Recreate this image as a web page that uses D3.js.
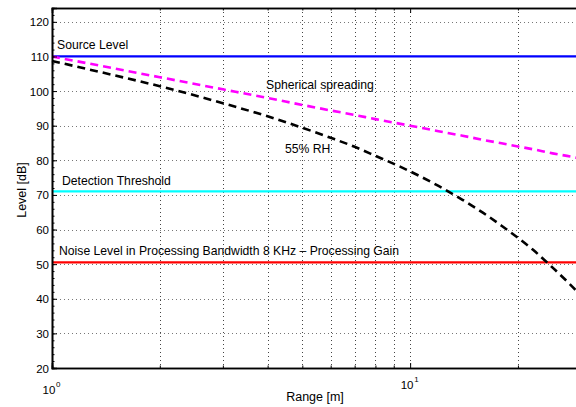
<!DOCTYPE html>
<html lang="en">
<head>
  <title>Level vs Range</title>
  <style type="text/css">
    body { margin: 0; background: #fff; }
    svg { width: 576px; height: 407px; display: block; font-family: "Liberation Sans", Arial, sans-serif; }
  </style>
  <script src="https://cdnjs.cloudflare.com/ajax/libs/d3/7.8.5/d3.min.js"></script>
</head>
<body>
  <div id="chart"></div>
  <script>
  // values
  var range = [1, 1.5, 2, 3, 4, 5, 6, 7, 8, 10, 12, 14, 16, 18, 20, 22, 25, 28, 30];
  var spherical = [110, 106.5, 104.0, 100.5, 98.0, 96.0, 94.4, 93.1, 91.9, 90.0, 88.4, 87.1, 85.9, 84.9, 84.0, 83.2, 82.0, 81.1, 80.5];
  var rh55 = [108.7, 104.5, 101.4, 96.5, 92.7, 89.4, 86.5, 83.9, 81.3, 76.8, 72.6, 68.6, 64.8, 61.1, 57.6, 54.2, 49.0, 44.1, 40.9];

  var levelNames = ["Source Level", "Detection Threshold", "Noise Level in Processing Bandwidth 8 KHz \u2013 Processing Gain"];
  var levelValues = [110, 71, 50.5];
  var levelColors = ["#0000ff", "#00ffff", "#ff0000"];

  var yTicks = [20, 30, 40, 50, 60, 70, 80, 90, 100, 110, 120];
  var xMajor = [1, 10];
  var xMinor = [2, 3, 4, 5, 6, 7, 8, 9, 20];

  var w = 576, h = 407;
  var pLeft = 52, pRight = 581, pTop = 8, pBottom = 368;

  var x = d3.scaleLog().domain([1, 30]).range([pLeft, pRight]);
  var y = d3.scaleLinear().domain([20, 124]).range([pBottom, pTop]);

  var svg = d3.select("#chart").append("svg")
    .attr("width", w)
    .attr("height", h);

  var plot = svg.append("g");

  // grid
  plot.selectAll("line.hgrid")
    .data(yTicks)
    .enter().append("line")
    .attr("class", "hgrid")
    .attr("x1", pLeft).attr("x2", pRight)
    .attr("y1", function(d) { return Math.round(y(d)) + 0.5; })
    .attr("y2", function(d) { return Math.round(y(d)) + 0.5; })
    .attr("stroke", "#777")
    .attr("stroke-width", 1)
    .attr("stroke-dasharray", "1,3");

  plot.selectAll("line.vgrid")
    .data(xMajor.concat(xMinor))
    .enter().append("line")
    .attr("class", "vgrid")
    .attr("x1", function(d) { return Math.round(x(d)) + 0.5; })
    .attr("x2", function(d) { return Math.round(x(d)) + 0.5; })
    .attr("y1", pTop).attr("y2", pBottom)
    .attr("stroke", "#444")
    .attr("stroke-width", 1)
    .attr("stroke-dasharray", "1,3");

  // horizontal levels
  plot.selectAll("line.level")
    .data(levelValues)
    .enter().append("line")
    .attr("class", "level")
    .attr("x1", pLeft).attr("x2", pRight)
    .attr("y1", function(d) { return y(d); })
    .attr("y2", function(d) { return y(d); })
    .attr("stroke", function(d, i) { return levelColors[i]; })
    .attr("stroke-width", 2.2);

  var line = d3.line()
    .x(function(d) { return x(d[0]); })
    .y(function(d) { return y(d[1]); })
    .curve(d3.curveMonotoneX);

  plot.append("path")
    .datum(d3.zip(range, spherical))
    .attr("d", line)
    .attr("fill", "none")
    .attr("stroke", "#ff00ff")
    .attr("stroke-width", 2.6)
    .attr("stroke-dasharray", "8,5");

  plot.append("path")
    .datum(d3.zip(range, rh55))
    .attr("d", line)
    .attr("fill", "none")
    .attr("stroke", "#000")
    .attr("stroke-width", 2.6)
    .attr("stroke-dasharray", "8,5");

  // axes box
  var yAxis = d3.axisLeft(y).tickValues(yTicks).tickSize(-5).tickPadding(3);
  var yMinor = d3.axisLeft(y).tickValues(d3.range(20, 124, 2)).tickSize(-2.5).tickFormat("");
  var xAxisB = d3.axisBottom(x).tickValues(xMajor).tickSize(-5).tickFormat("");
  var xMinorB = d3.axisBottom(x).tickValues(xMinor).tickSize(-2.5).tickFormat("");
  var xAxisT = d3.axisTop(x).tickValues(xMajor).tickSize(-5).tickFormat("");
  var xMinorT = d3.axisTop(x).tickValues(xMinor).tickSize(-2.5).tickFormat("");

  svg.append("g").attr("transform", "translate(" + pLeft + ",0)").call(yMinor);
  var ya = svg.append("g").attr("transform", "translate(" + pLeft + ",0)").call(yAxis);
  svg.append("g").attr("transform", "translate(0," + pBottom + ")").call(xMinorB);
  svg.append("g").attr("transform", "translate(0," + pBottom + ")").call(xAxisB);
  svg.append("g").attr("transform", "translate(0," + pTop + ")").call(xMinorT);
  svg.append("g").attr("transform", "translate(0," + pTop + ")").call(xAxisT);

  svg.selectAll(".domain").attr("stroke", "#000").attr("stroke-width", 1.6);
  svg.selectAll(".tick line").attr("stroke", "#000");
  ya.selectAll(".tick text")
    .attr("font-size", 11.5)
    .attr("font-family", "Liberation Sans, Arial, sans-serif")
    .attr("fill", "#000")
    .attr("dy", "0.35em");

  // log tick labels 10^n
  var xLab = svg.append("g").attr("font-size", 11.5);
  xMajor.forEach(function(v, i) {
    var by = i == 0 ? 394 : 389;
    xLab.append("text")
      .attr("x", x(v) - 3)
      .attr("y", by)
      .attr("text-anchor", "middle")
      .text("10");
    xLab.append("text")
      .attr("x", x(v) + 4)
      .attr("y", by - 7)
      .attr("font-size", 8)
      .text(Math.round(Math.log10(v)));
  });

  // axis titles
  svg.append("text")
    .attr("x", 315).attr("y", 401)
    .attr("text-anchor", "middle")
    .attr("font-size", 12.5)
    .text("Range [m]");

  svg.append("text")
    .attr("transform", "translate(26,190) rotate(-90)")
    .attr("text-anchor", "middle")
    .attr("font-size", 12.5)
    .text("Level [dB]");

  // annotations
  var notes = [
    {t: levelNames[0], x: 57, y: 49},
    {t: "Spherical spreading", x: 266, y: 89},
    {t: "55% RH", x: 285, y: 153},
    {t: levelNames[1], x: 62, y: 185},
    {t: levelNames[2], x: 59, y: 255}
  ];
  svg.selectAll("text.note")
    .data(notes)
    .enter().append("text")
    .attr("class", "note")
    .attr("x", function(d) { return d.x; })
    .attr("y", function(d) { return d.y; })
    .attr("font-size", 12.2)
    .text(function(d) { return d.t; });
  </script>
</body>
</html>
